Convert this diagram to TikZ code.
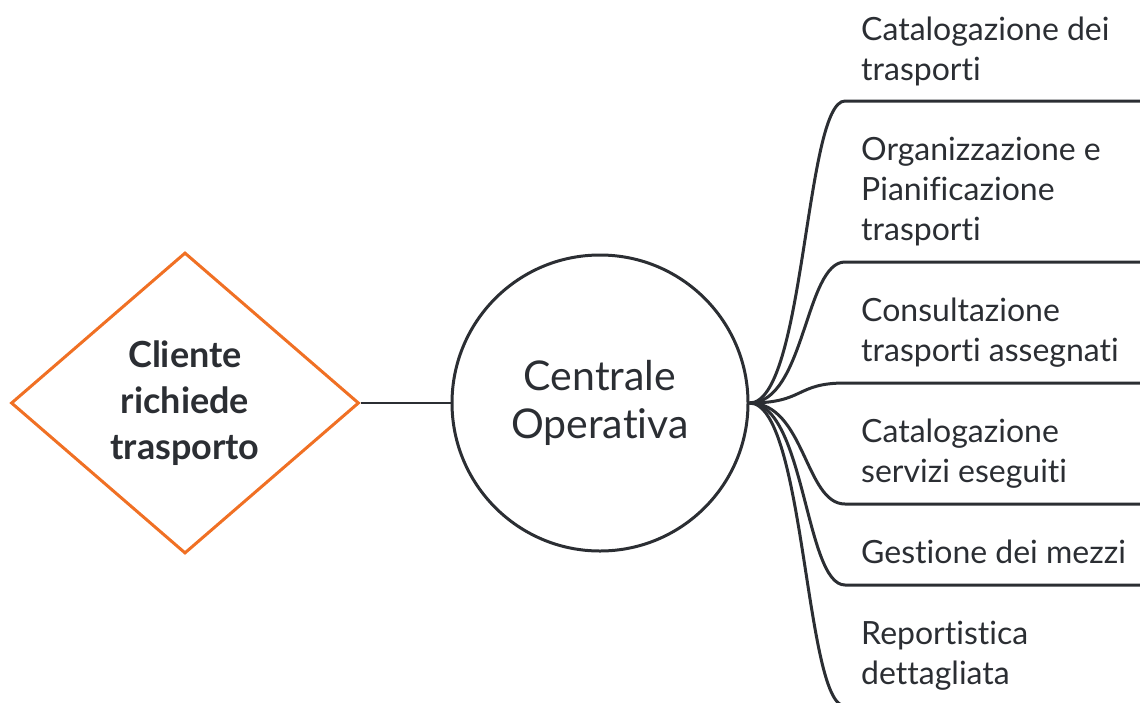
\documentclass[tikz,border=0pt]{standalone}
\usepackage{fontspec}
\setmainfont{Lato}[Ligatures=NoCommon]
\usetikzlibrary{shapes.geometric}
\definecolor{ink}{HTML}{2B2E33}
\definecolor{arancio}{HTML}{F07024}
\begin{document}
\begin{tikzpicture}[x=1pt,y=-1pt,
    ramo/.style={draw=ink,line width=3pt},
    voce/.style={anchor=base west,inner sep=0pt,align=left,text=ink,
        font=\fontsize{32}{40}\selectfont}]

        \clip (0,0) rectangle (1140,702);

        \node[diamond,draw=arancio,line width=3pt,aspect=1.16,
            minimum width=348pt,minimum height=301pt,inner sep=0pt,
            align=center,text=ink,font=\bfseries\fontsize{36}{46}\selectfont]
            (C) at (185,403) {Cliente\\richiede\\trasporto};
        \node[circle,draw=ink,line width=3pt,minimum size=296pt,
            align=center,text=ink,font=\fontsize{41}{48}\selectfont]
            (O) at (600,403) {Centrale\\Operativa};

        \draw[draw=ink,line width=2pt] (C.east) -- (O.west);

        \node[voce] (V1) at (861,80) {Catalogazione dei\\trasporti};
        \node[voce] (V2) at (861,240) {Organizzazione e\\Pianificazione\\trasporti};
        \node[voce] (V3) at (861,361) {Consultazione\\trasporti assegnati};
        \node[voce] (V4) at (861,482) {Catalogazione\\servizi eseguiti};
        \node[voce] (V5) at (861,563) {Gestione dei mezzi};
        \node[voce] (V6) at (861,684) {Reportistica\\dettagliata};

        \coordinate (L1) at (845,101);  \coordinate (R1) at (1140,101);
        \coordinate (L2) at (845,262);  \coordinate (R2) at (1140,262);
        \coordinate (L3) at (845,383);  \coordinate (R3) at (1140,383);
        \coordinate (L4) at (845,504);  \coordinate (R4) at (1140,504);
        \coordinate (L5) at (845,585);  \coordinate (R5) at (1140,585);
        \coordinate (L6) at (845,706);  \coordinate (R6) at (1140,706);

        \draw[ramo] (O.east) .. controls (805,403) and (805,101) .. (L1) -- (R1);
        \draw[ramo] (O.east) .. controls (805,403) and (805,262) .. (L2) -- (R2);
        \draw[ramo] (O.east) .. controls (805,403) and (795,383) .. (L3) -- (R3);
        \draw[ramo] (O.east) .. controls (805,403) and (805,504) .. (L4) -- (R4);
        \draw[ramo] (O.east) .. controls (805,403) and (805,585) .. (L5) -- (R5);
        \draw[ramo] (O.east) .. controls (805,403) and (805,706) .. (L6) -- (R6);

    \end{tikzpicture}
\end{document}
